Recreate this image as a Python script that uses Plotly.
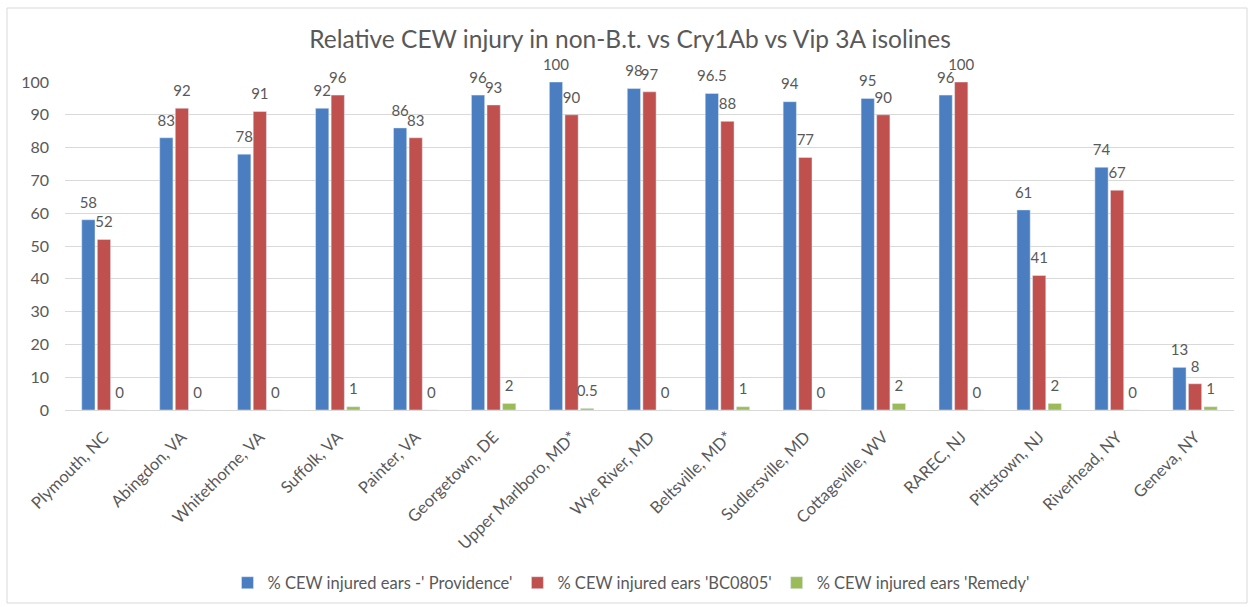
import plotly.graph_objects as go

categories = ["Plymouth, NC", "Abingdon, VA", "Whitethorne, VA", "Suffolk, VA", "Painter, VA",
              "Georgetown, DE", "Upper Marlboro, MD*", "Wye River, MD", "Beltsville, MD*",
              "Sudlersville, MD", "Cottageville, WV", "RAREC, NJ", "Pittstown, NJ",
              "Riverhead, NY", "Geneva, NY"]
providence = [58, 83, 78, 92, 86, 96, 100, 98, 96.5, 94, 95, 96, 61, 74, 13]
bc0805 = [52, 92, 91, 96, 83, 93, 90, 97, 88, 77, 90, 100, 41, 67, 8]
remedy = [0, 0, 0, 1, 0, 2, 0.5, 0, 1, 0, 2, 0, 2, 0, 1]

names = ["% CEW injured ears -' Providence'", "% CEW injured ears 'BC0805'", "% CEW injured ears 'Remedy'"]
colors = ["#4A7EC0", "#C0504D", "#9BBB59"]
series = [providence, bc0805, remedy]

FONT = "Lato, 'Open Sans', sans-serif"
GRAY = "#595959"

fig = go.Figure()
for i, (name, vals, col) in enumerate(zip(names, series, colors)):
    fig.add_trace(go.Bar(
        x=categories, y=vals, name=name, marker_color=col,
        offsetgroup=str(i), legendgroup=str(i),
    ))
for i, (name, vals, col) in enumerate(zip(names, series, colors)):
    fig.add_trace(go.Scatter(
        x=categories, y=vals, name=name, mode="text+markers",
        marker=dict(size=12, opacity=0, color=col),
        text=[f"{v:g}" for v in vals], textposition="top center",
        textfont=dict(size=15, color=GRAY, family=FONT),
        offsetgroup=str(i), legendgroup=str(i), showlegend=False,
        cliponaxis=False, hoverinfo="skip",
    ))

W, H = 1250, 607
ml, mr, mt, mb = 65, 16, 82, 197
pw, ph = W - ml - mr, H - mt - mb

def px_x(p):
    return (p - ml) / pw

def px_y(p):
    return (H - mb - p) / ph

fig.update_layout(
    width=W, height=H,
    margin=dict(l=ml, r=mr, t=mt, b=mb, autoexpand=False),
    paper_bgcolor="white", plot_bgcolor="white",
    barmode="group", bargap=0.4, bargroupgap=0.15,
    scattermode="group", scattergap=0.4,
    font=dict(family=FONT, color=GRAY),
    title=dict(text="Relative CEW injury in non-B.t. vs Cry1Ab vs Vip 3A isolines",
               x=630 / W, xref="container", xanchor="center",
               y=1 - 39 / H, yanchor="middle",
               font=dict(size=24.5, color=GRAY, family=FONT)),
    xaxis=dict(tickangle=-45, tickfont=dict(size=16.5, color=GRAY), showgrid=False,
               showline=True, linecolor="#D9D9D9", linewidth=1, ticks="",
               ticklabelstandoff=10, automargin=False),
    yaxis=dict(range=[0, 100], dtick=10, tickfont=dict(size=16, color=GRAY),
               gridcolor="#D9D9D9", gridwidth=1, zeroline=False, ticks="",
               ticklabelstandoff=15, automargin=False),
    legend=dict(orientation="h", x=631 / W, xanchor="center", xref="container",
                y=1 - 583 / H, yanchor="middle", yref="container",
                font=dict(size=16.5, color=GRAY), itemwidth=30,
                traceorder="normal"),
    shapes=[dict(type="rect", xref="paper", yref="paper",
                 x0=px_x(7), x1=px_x(1247), y0=px_y(603), y1=px_y(8),
                 line=dict(color="#D9D9D9", width=1), fillcolor="rgba(0,0,0,0)",
                 layer="below")],
)

fig.write_html("out.html", config={"displayModeBar": False},
               post_script="document.body.style.margin='0';")
